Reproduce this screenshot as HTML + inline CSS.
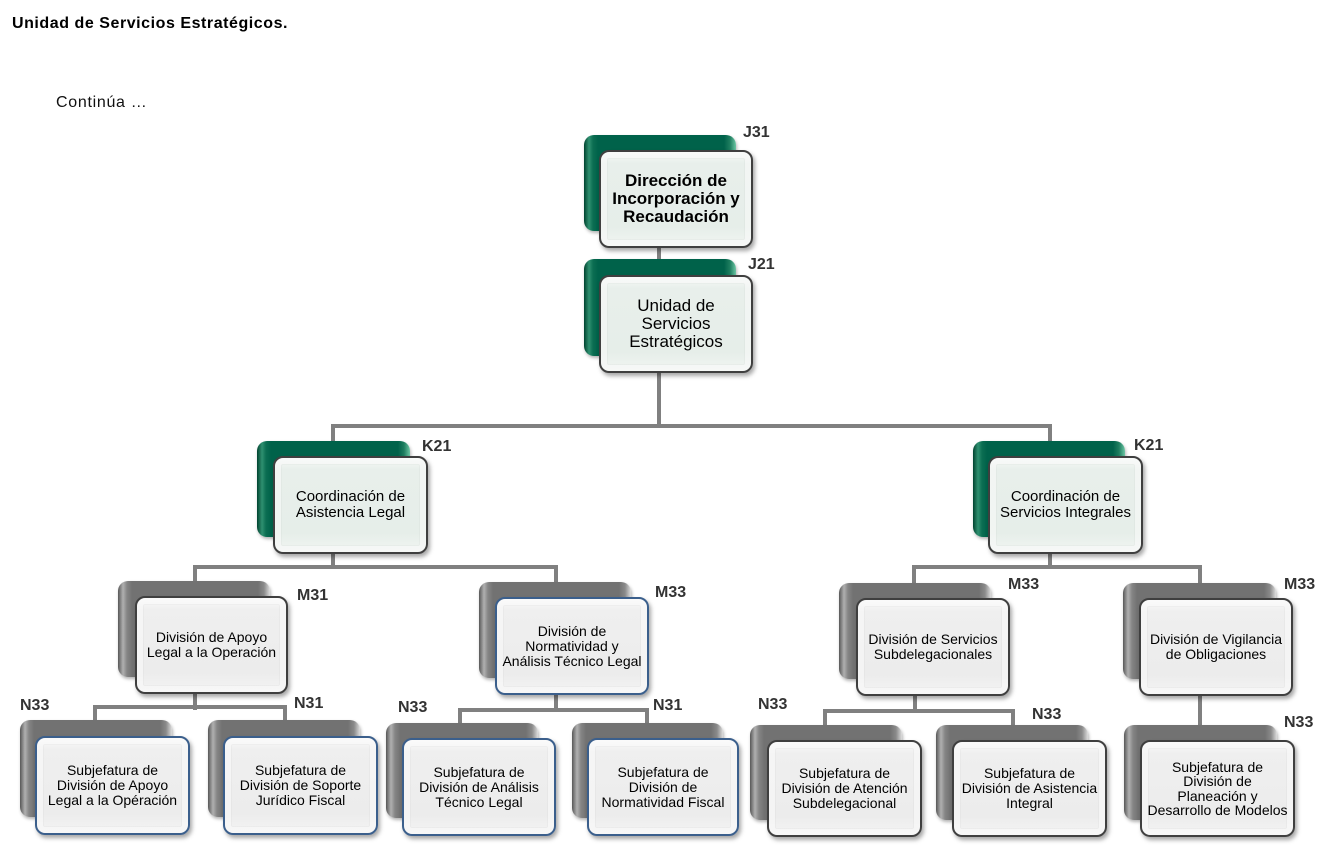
<!DOCTYPE html>
<html><head><meta charset="utf-8">
<style>
*{margin:0;padding:0;box-sizing:border-box}
body{width:1334px;height:853px;background:#fff;position:relative;overflow:hidden;font-family:"Liberation Sans",Arial,sans-serif}
.t{position:absolute;white-space:nowrap}
.ln{position:absolute;background:#808080}
.bk{position:absolute;border-radius:10px}
.g{background:linear-gradient(90deg,#00432f 0px,#2f9070 5px,#0b6e52 9px,#00624a 14px,#00624a calc(100% - 12px),#1f7e60 calc(100% - 6px),#6cc6a4 100%);box-shadow:1px 2px 3px rgba(0,0,0,.3)}
.gr{background:linear-gradient(90deg,#575757 0px,#b0b0b0 5px,#858585 9px,#727272 14px,#727272 calc(100% - 12px),#8a8a8a calc(100% - 6px),#dcdcdc 100%);box-shadow:1px 2px 3px rgba(0,0,0,.3)}
.fr{position:absolute;border-radius:10px;border:2px solid #3f3f3f;display:flex;align-items:center;justify-content:center;text-align:center;color:#000;white-space:nowrap;
background:linear-gradient(180deg,#fbfbfb 0%,#efefef 12%,#ececec 80%,#f4f4f4 100%);
box-shadow:2px 3px 4px rgba(0,0,0,.35),inset 0 0 0 6px rgba(255,255,255,.55),inset 0 0 0 7px rgba(0,0,0,.025)}
.fg{background:linear-gradient(180deg,#f7faf8 0%,#e8efeb 12%,#e6eee9 80%,#f1f5f2 100%)}
.bl{border-color:#3b5f8c}
.lb{position:absolute;font-weight:bold;font-size:16px;line-height:16px;color:#333;white-space:nowrap}
.s17{font-size:17px;line-height:18px}
.s15{font-size:15px;line-height:16px}
.s14{font-size:14px;line-height:15px}
</style></head><body>

<div class="t" style="left:12px;top:15px;font-weight:bold;font-size:16px;letter-spacing:0.55px;color:#000">Unidad de Servicios Estratégicos.</div>
<div class="t" style="left:56px;top:94px;font-size:16px;letter-spacing:0.7px;color:#111">Continúa …</div>

<!-- connectors -->
<div class="ln" style="left:657px;top:225px;width:4px;height:55px"></div>
<div class="ln" style="left:657px;top:368px;width:4px;height:60px"></div>
<div class="ln" style="left:331px;top:424px;width:721px;height:4px"></div>
<div class="ln" style="left:331px;top:424px;width:4px;height:145px"></div>
<div class="ln" style="left:1048px;top:424px;width:4px;height:145px"></div>
<div class="ln" style="left:193px;top:565px;width:365px;height:4px"></div>
<div class="ln" style="left:193px;top:565px;width:4px;height:145px"></div>
<div class="ln" style="left:554px;top:565px;width:4px;height:147px"></div>
<div class="ln" style="left:93px;top:705px;width:194px;height:4px"></div>
<div class="ln" style="left:93px;top:705px;width:4px;height:18px"></div>
<div class="ln" style="left:283px;top:705px;width:4px;height:18px"></div>
<div class="ln" style="left:458px;top:708px;width:191px;height:4px"></div>
<div class="ln" style="left:458px;top:708px;width:4px;height:18px"></div>
<div class="ln" style="left:645px;top:708px;width:4px;height:18px"></div>
<div class="ln" style="left:912px;top:565px;width:290px;height:4px"></div>
<div class="ln" style="left:912px;top:565px;width:4px;height:20px"></div>
<div class="ln" style="left:1198px;top:565px;width:4px;height:165px"></div>
<div class="ln" style="left:913px;top:690px;width:4px;height:22px"></div>
<div class="ln" style="left:823px;top:709px;width:192px;height:4px"></div>
<div class="ln" style="left:823px;top:709px;width:4px;height:18px"></div>
<div class="ln" style="left:1011px;top:709px;width:4px;height:18px"></div>

<!-- J31 -->
<div class="bk g" style="left:584px;top:135px;width:152px;height:96px"></div>
<div class="fr fg" style="left:599px;top:150px;width:154px;height:98px"><div class="s17" style="font-weight:bold">Dirección de<br>Incorporación y<br>Recaudación</div></div>
<div class="lb" style="left:743px;top:125px">J31</div>

<!-- J21 -->
<div class="bk g" style="left:584px;top:259px;width:152px;height:97px"></div>
<div class="fr fg" style="left:599px;top:275px;width:154px;height:98px"><div class="s17">Unidad de<br>Servicios<br>Estratégicos</div></div>
<div class="lb" style="left:748px;top:257px">J21</div>

<!-- K21 left -->
<div class="bk g" style="left:257px;top:441px;width:153px;height:96px"></div>
<div class="fr fg" style="left:273px;top:456px;width:155px;height:98px"><div class="s15">Coordinación de<br>Asistencia Legal</div></div>
<div class="lb" style="left:422px;top:439px">K21</div>

<!-- K21 right -->
<div class="bk g" style="left:973px;top:441px;width:152px;height:96px"></div>
<div class="fr fg" style="left:988px;top:456px;width:155px;height:98px"><div class="s15">Coordinación de<br>Servicios Integrales</div></div>
<div class="lb" style="left:1134px;top:438px">K21</div>

<!-- M31 -->
<div class="bk gr" style="left:118px;top:581px;width:152px;height:96px"></div>
<div class="fr" style="left:135px;top:596px;width:153px;height:98px"><div class="s14">División de Apoyo<br>Legal a la Operación</div></div>
<div class="lb" style="left:297px;top:588px">M31</div>

<!-- M33 Normatividad -->
<div class="bk gr" style="left:479px;top:582px;width:152px;height:96px"></div>
<div class="fr bl" style="left:495px;top:597px;width:154px;height:98px"><div class="s14">División de<br>Normatividad y<br>Análisis Técnico Legal</div></div>
<div class="lb" style="left:655px;top:585px">M33</div>

<!-- M33 Servicios -->
<div class="bk gr" style="left:839px;top:583px;width:152px;height:96px"></div>
<div class="fr" style="left:856px;top:598px;width:154px;height:98px"><div class="s14">División de Servicios<br>Subdelegacionales</div></div>
<div class="lb" style="left:1008px;top:577px">M33</div>

<!-- M33 Vigilancia -->
<div class="bk gr" style="left:1123px;top:583px;width:153px;height:96px"></div>
<div class="fr" style="left:1139px;top:598px;width:154px;height:98px"><div class="s14">División de Vigilancia<br>de Obligaciones</div></div>
<div class="lb" style="left:1284px;top:577px">M33</div>

<!-- N33 Apoyo -->
<div class="bk gr" style="left:20px;top:720px;width:152px;height:97px"></div>
<div class="fr bl" style="left:35px;top:736px;width:155px;height:99px"><div class="s14">Subjefatura de<br>División de Apoyo<br>Legal a la Opéración</div></div>
<div class="lb" style="left:20px;top:698px">N33</div>

<!-- N31 Soporte -->
<div class="bk gr" style="left:208px;top:720px;width:152px;height:97px"></div>
<div class="fr bl" style="left:223px;top:736px;width:155px;height:99px"><div class="s14">Subjefatura de<br>División de Soporte<br>Jurídico Fiscal</div></div>
<div class="lb" style="left:294px;top:696px">N31</div>

<!-- N33 Analisis -->
<div class="bk gr" style="left:386px;top:723px;width:152px;height:95px"></div>
<div class="fr bl" style="left:402px;top:738px;width:154px;height:98px"><div class="s14">Subjefatura de<br>División de Análisis<br>Técnico Legal</div></div>
<div class="lb" style="left:398px;top:700px">N33</div>

<!-- N31 Normatividad Fiscal -->
<div class="bk gr" style="left:572px;top:723px;width:151px;height:95px"></div>
<div class="fr bl" style="left:587px;top:738px;width:152px;height:98px"><div class="s14">Subjefatura de<br>División de<br>Normatividad Fiscal</div></div>
<div class="lb" style="left:653px;top:698px">N31</div>

<!-- N33 Atencion -->
<div class="bk gr" style="left:750px;top:725px;width:152px;height:95px"></div>
<div class="fr" style="left:767px;top:740px;width:155px;height:97px"><div class="s14">Subjefatura de<br>División de Atención<br>Subdelegacional</div></div>
<div class="lb" style="left:758px;top:697px">N33</div>

<!-- N33 Asistencia -->
<div class="bk gr" style="left:936px;top:725px;width:152px;height:95px"></div>
<div class="fr" style="left:952px;top:740px;width:155px;height:97px"><div class="s14">Subjefatura de<br>División de Asistencia<br>Integral</div></div>
<div class="lb" style="left:1032px;top:707px">N33</div>

<!-- N33 Planeacion -->
<div class="bk gr" style="left:1124px;top:725px;width:153px;height:95px"></div>
<div class="fr" style="left:1140px;top:740px;width:155px;height:97px"><div class="s14" style="line-height:14.5px">Subjefatura de<br>División de<br>Planeación y<br>Desarrollo de Modelos</div></div>
<div class="lb" style="left:1284px;top:715px">N33</div>

</body></html>
